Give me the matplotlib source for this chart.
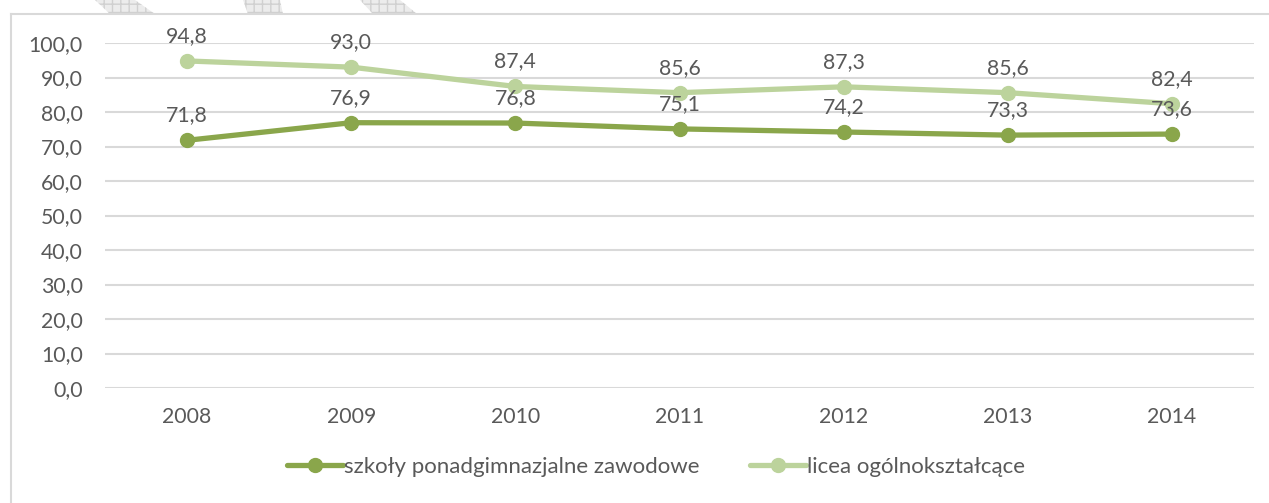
import matplotlib
matplotlib.use("Agg")
import matplotlib.pyplot as plt
from matplotlib.lines import Line2D
from matplotlib.patches import Polygon

# ── Data ────────────────────────────────────────────────────────────────
years = ["2008", "2009", "2010", "2011", "2012", "2013", "2014"]
zawodowe = [71.8, 76.9, 76.8, 75.1, 74.2, 73.3, 73.6]
licea = [94.8, 93.0, 87.4, 85.6, 87.3, 85.6, 82.4]
series_names = ["szkoły ponadgimnazjalne zawodowe", "licea ogólnokształcące"]
yticks = [0, 10, 20, 30, 40, 50, 60, 70, 80, 90, 100]

# ── Style ───────────────────────────────────────────────────────────────
DARK = "#8aa64b"
LIGHT = "#bcd39c"
TEXT = "#595959"
GRID = "#d9d9d9"
FONT = "Lato"
FS = 15.3

plt.rcParams["font.family"] = [FONT, "DejaVu Sans"]

W, H = 1269, 503
fig = plt.figure(figsize=(W / 100, H / 100), dpi=100, facecolor="white")

# faint hatched shapes peeking in at the top edge
for quad in [
    [(95, 0), (135, 0), (155, 14), (110, 14)],
    [(243, 0), (280, 0), (283, 14), (248, 14)],
    [(360, 0), (400, 0), (417, 14), (373, 14)],
]:
    fig.add_artist(Polygon([(x / W, 1 - y / H) for x, y in quad],
                           closed=True, transform=fig.transFigure,
                           facecolor="#ececec", edgecolor="#d0d0d0",
                           hatch="++", lw=0))

# chart area border (left + top visible)
bx, by = 11 / W, 1 - 14 / H
fig.add_artist(Line2D([bx, bx], [0, by], color=GRID, lw=1.5))
fig.add_artist(Line2D([bx, 1], [by, by], color=GRID, lw=1.5))

ax = fig.add_axes([105 / W, 1 - 388 / H, (1254 - 105) / W, (388 - 43) / H])
ax.set_facecolor("white")

x = range(len(years))
ax.plot(x, zawodowe, color=DARK, lw=3.8, marker="o", ms=10,
        label=series_names[0], zorder=3, solid_capstyle="round")
ax.plot(x, licea, color=LIGHT, lw=3.8, marker="o", ms=10,
        label=series_names[1], zorder=2, solid_capstyle="round")

for vals in (zawodowe, licea):
    for i, v in enumerate(vals):
        ax.annotate(f"{v:.1f}".replace(".", ","), (i, v),
                    xytext=(0, 19), textcoords="offset pixels",
                    ha="center", va="baseline", fontsize=FS,
                    color=TEXT, zorder=5, annotation_clip=False)

ax.set_xlim(-0.5, len(years) - 0.5)
ax.set_ylim(0, 100)
ax.set_xticks(list(x))
ax.set_xticklabels(years)
ax.set_yticks(yticks)
ax.set_yticklabels([f"{t:.1f}".replace(".", ",") for t in yticks])
ax.tick_params(axis="both", length=0, labelsize=FS, colors=TEXT)
ax.tick_params(axis="x", pad=14)
ax.tick_params(axis="y", pad=16)
ax.yaxis.grid(True, color=GRID, lw=1.5)
ax.set_axisbelow(True)
for s in ax.spines.values():
    s.set_visible(False)

fig.legend(loc="center", bbox_to_anchor=(656 / W, 1 - 467 / H),
           ncol=2, frameon=False, fontsize=16, labelcolor=TEXT,
           handlelength=2.5, handletextpad=0.05, columnspacing=2.3)

fig.savefig("out.png", dpi=100, facecolor="white")
